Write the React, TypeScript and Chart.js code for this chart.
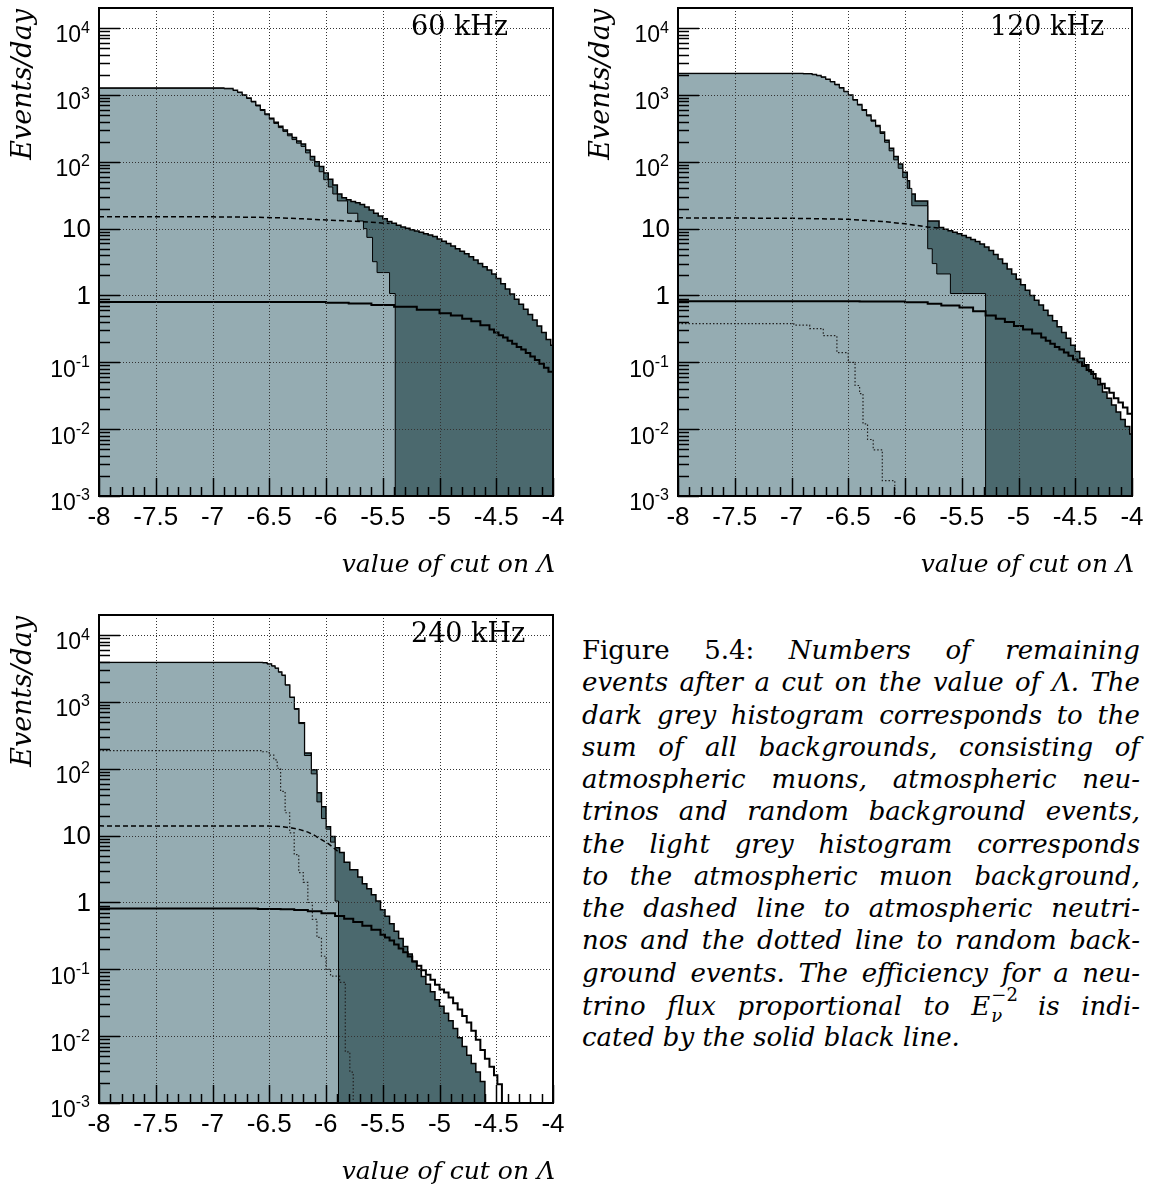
import React, { useEffect, useRef } from "react";
import { Chart, registerables } from "chart.js";

Chart.register(...registerables);

type Pt = [number, number];

// a value far below the axis range: the histogram has dropped to zero there
const NONE = 1e-6;

const xTickValues = [-8, -7.5, -7, -6.5, -6, -5.5, -5, -4.5, -4];
const xTickLabels = ["-8", "-7.5", "-7", "-6.5", "-6", "-5.5", "-5", "-4.5", "-4"];
const yTickValues = [1e-3, 1e-2, 1e-1, 1, 10, 1e2, 1e3, 1e4];
const yTickBases = ["10", "10", "10", "1", "10", "10", "10", "10"];
const yTickExps = ["-3", "-2", "-1", "", "", "2", "3", "4"];

const panelTitles = ["60 kHz", "120 kHz", "240 kHz"];
const yAxisTitle = "Events/day";
const xAxisTitle = "value of cut on Λ";

// each point [x, y]: value y holds from x up to the next point's x

// ---------- 60 kHz ----------
const p1Sum: Pt[] = [
  [-8, 1270], [-6.9, 1250], [-6.82, 1180], [-6.78, 1100], [-6.74, 1000], [-6.7, 900], [-6.66, 800],
  [-6.62, 700], [-6.58, 600], [-6.54, 520], [-6.5, 450], [-6.46, 390], [-6.42, 340], [-6.38, 300],
  [-6.34, 260], [-6.3, 230], [-6.26, 205], [-6.22, 185], [-6.18, 150], [-6.14, 120], [-6.1, 100],
  [-6.06, 85], [-6.02, 68], [-5.98, 55], [-5.94, 45], [-5.9, 33], [-5.86, 29], [-5.82, 27],
  [-5.78, 25.5], [-5.74, 24.5], [-5.7, 23], [-5.66, 21], [-5.62, 19], [-5.58, 17], [-5.54, 15.5],
  [-5.5, 14], [-5.46, 12.8], [-5.42, 12], [-5.38, 11.2], [-5.34, 10.6], [-5.3, 10.1], [-5.26, 9.6],
  [-5.22, 9.2], [-5.18, 8.8], [-5.14, 8.4], [-5.1, 8.0], [-5.06, 7.6], [-5.02, 7.0], [-4.98, 6.5],
  [-4.94, 6.0], [-4.9, 5.5], [-4.86, 5.0], [-4.82, 4.6], [-4.78, 4.2], [-4.74, 3.8], [-4.7, 3.4],
  [-4.66, 3.0], [-4.62, 2.7], [-4.58, 2.4], [-4.54, 2.1], [-4.5, 1.8], [-4.46, 1.5], [-4.42, 1.25],
  [-4.38, 1.05], [-4.34, 0.88], [-4.3, 0.74], [-4.26, 0.62], [-4.22, 0.52], [-4.18, 0.43],
  [-4.14, 0.35], [-4.1, 0.28], [-4.06, 0.22], [-4.02, 0.18], [-4, 0.17],
];
const p1Muon: Pt[] = [
  [-8, 1255], [-6.9, 1235], [-6.82, 1165], [-6.78, 1085], [-6.74, 985], [-6.7, 885], [-6.66, 785],
  [-6.62, 685], [-6.58, 585], [-6.54, 505], [-6.5, 435], [-6.46, 375], [-6.42, 325], [-6.38, 285],
  [-6.34, 245], [-6.3, 215], [-6.26, 190], [-6.22, 170], [-6.18, 136], [-6.14, 106], [-6.1, 86],
  [-6.06, 71], [-6.02, 54], [-5.98, 42], [-5.94, 33], [-5.9, 26], [-5.81, 17], [-5.72, 13],
  [-5.67, 10], [-5.64, 7.4], [-5.59, 3.2], [-5.55, 2.2], [-5.44, 1.07], [-5.39, NONE], [-4, NONE],
];
const p1Nu: Pt[] = [
  [-8, 15], [-7, 15], [-6.6, 14.8], [-6.4, 14.5], [-6.2, 14.0], [-6.0, 13.5], [-5.8, 13.0],
  [-5.6, 12.5], [-5.44, 11.9],
];
const p1Signal: Pt[] = [
  [-8, 0.8], [-6.4, 0.8], [-6.0, 0.78], [-5.8, 0.76], [-5.6, 0.72], [-5.4, 0.68], [-5.2, 0.61],
  [-5.0, 0.54], [-4.9, 0.5], [-4.8, 0.45], [-4.72, 0.41], [-4.64, 0.36], [-4.56, 0.31], [-4.52, 0.28],
  [-4.48, 0.255], [-4.44, 0.235], [-4.4, 0.21], [-4.36, 0.19], [-4.32, 0.17], [-4.28, 0.155],
  [-4.24, 0.138], [-4.2, 0.122], [-4.16, 0.108], [-4.12, 0.095], [-4.08, 0.083], [-4.04, 0.072],
  [-4, 0.06],
];

// ---------- 120 kHz ----------
const p2Sum: Pt[] = [
  [-8, 2100], [-6.9, 2080], [-6.82, 2020], [-6.78, 1950], [-6.74, 1850], [-6.7, 1720], [-6.66, 1580],
  [-6.62, 1430], [-6.58, 1280], [-6.54, 1130], [-6.5, 1000], [-6.46, 850], [-6.42, 720], [-6.38, 600],
  [-6.34, 500], [-6.3, 420], [-6.26, 350], [-6.22, 280], [-6.18, 210], [-6.14, 160], [-6.1, 120],
  [-6.06, 93], [-6.02, 70], [-5.98, 52], [-5.96, 33], [-5.91, 26], [-5.8, 13], [-5.7, 10.4],
  [-5.66, 9.8], [-5.62, 9.3], [-5.58, 8.8], [-5.54, 8.4], [-5.5, 7.9], [-5.46, 7.4], [-5.42, 6.9],
  [-5.38, 6.4], [-5.34, 5.9], [-5.3, 5.3], [-5.26, 4.7], [-5.22, 4.1], [-5.18, 3.5], [-5.14, 3.0],
  [-5.1, 2.5], [-5.06, 2.1], [-5.02, 1.75], [-4.98, 1.45], [-4.94, 1.2], [-4.9, 1.0], [-4.86, 0.85],
  [-4.82, 0.72], [-4.78, 0.6], [-4.74, 0.5], [-4.7, 0.42], [-4.66, 0.34], [-4.62, 0.28], [-4.58, 0.23],
  [-4.54, 0.18], [-4.5, 0.145], [-4.46, 0.115], [-4.42, 0.092], [-4.38, 0.073], [-4.34, 0.058],
  [-4.3, 0.046], [-4.26, 0.036], [-4.22, 0.029], [-4.18, 0.023], [-4.14, 0.018], [-4.1, 0.014],
  [-4.06, 0.011], [-4.02, 0.0085], [-4, 0.0073],
];
const p2Muon: Pt[] = [
  [-8, 2085], [-6.9, 2065], [-6.82, 2005], [-6.78, 1935], [-6.74, 1835], [-6.7, 1705], [-6.66, 1565],
  [-6.62, 1415], [-6.58, 1265], [-6.54, 1115], [-6.5, 985], [-6.46, 835], [-6.42, 705], [-6.38, 585],
  [-6.34, 485], [-6.3, 405], [-6.26, 335], [-6.22, 265], [-6.18, 196], [-6.14, 146], [-6.1, 107],
  [-6.06, 80], [-6.02, 58], [-5.98, 40], [-5.94, 22], [-5.8, 5], [-5.76, 3.0], [-5.72, 2.1],
  [-5.6, 1.07], [-5.29, NONE], [-4, NONE],
];
const p2Nu: Pt[] = [
  [-8, 14.5], [-7, 14.3], [-6.5, 13.8], [-6.2, 12.8], [-6.0, 11.8], [-5.8, 10.6], [-5.7, 10.2],
];
const p2Random: Pt[] = [
  [-8, 0.38], [-6.98, 0.36], [-6.84, 0.32], [-6.72, 0.25], [-6.6, 0.14], [-6.5, 0.1], [-6.44, 0.045],
  [-6.4, 0.034], [-6.37, 0.012], [-6.33, 0.007], [-6.28, 0.0049], [-6.2, 0.0017], [-6.09, NONE],
];
const p2Signal: Pt[] = [
  [-8, 0.82], [-6.4, 0.81], [-6.0, 0.79], [-5.8, 0.75], [-5.68, 0.71], [-5.52, 0.66], [-5.4, 0.58],
  [-5.29, 0.5], [-5.2, 0.45], [-5.12, 0.4], [-5.04, 0.35], [-4.96, 0.31], [-4.88, 0.27], [-4.8, 0.235],
  [-4.76, 0.21], [-4.72, 0.19], [-4.68, 0.17], [-4.64, 0.155], [-4.6, 0.14], [-4.56, 0.125],
  [-4.52, 0.11], [-4.48, 0.1], [-4.44, 0.088], [-4.4, 0.077], [-4.36, 0.067], [-4.32, 0.057],
  [-4.28, 0.048], [-4.24, 0.041], [-4.2, 0.035], [-4.16, 0.029], [-4.12, 0.025], [-4.08, 0.021],
  [-4.04, 0.017], [-4, 0.0146],
];

// ---------- 240 kHz ----------
const p3Sum: Pt[] = [
  [-8, 3900], [-6.56, 3850], [-6.52, 3700], [-6.48, 3450], [-6.45, 3200], [-6.42, 2800], [-6.39, 2500],
  [-6.36, 1800], [-6.32, 1180], [-6.28, 790], [-6.24, 490], [-6.19, 173], [-6.13, 97], [-6.08, 44],
  [-6.04, 27], [-6.0, 13.6], [-5.96, 9.7], [-5.92, 6.6], [-5.88, 5.6], [-5.84, 4.0], [-5.79, 3.1],
  [-5.72, 2.4], [-5.68, 1.9], [-5.64, 1.6], [-5.6, 1.3], [-5.56, 1.05], [-5.52, 0.78], [-5.48, 0.62],
  [-5.44, 0.48], [-5.4, 0.37], [-5.36, 0.29], [-5.32, 0.22], [-5.28, 0.17], [-5.24, 0.13], [-5.2, 0.1],
  [-5.16, 0.078], [-5.12, 0.06], [-5.08, 0.046], [-5.04, 0.035], [-5.0, 0.028], [-4.96, 0.022],
  [-4.92, 0.017], [-4.88, 0.013], [-4.84, 0.0095], [-4.8, 0.007], [-4.76, 0.0052], [-4.72, 0.0039],
  [-4.68, 0.0029], [-4.64, 0.0021], [-4.6, NONE], [-4, NONE],
];
const p3Muon: Pt[] = [
  [-8, 3885], [-6.56, 3835], [-6.52, 3685], [-6.48, 3435], [-6.45, 3185], [-6.42, 2785], [-6.39, 2485],
  [-6.36, 1785], [-6.32, 1165], [-6.28, 775], [-6.24, 475], [-6.19, 158], [-6.13, 84], [-6.08, 32],
  [-6.04, 18], [-6.0, 12.5], [-5.96, 8], [-5.92, 1.05], [-5.89, NONE], [-4, NONE],
];
const p3Nu: Pt[] = [
  [-8, 14], [-6.5, 13.9], [-6.4, 13.7], [-6.3, 13.0], [-6.23, 12.3], [-6.16, 11.3], [-6.11, 10.3],
  [-6.04, 8.7], [-5.98, 7.6], [-5.92, 6.3], [-5.88, 5.5],
];
const p3Random: Pt[] = [
  [-8, 187], [-6.56, 180], [-6.5, 160], [-6.46, 136], [-6.43, 102], [-6.4, 46], [-6.36, 22],
  [-6.32, 11], [-6.28, 5.2], [-6.24, 2.8], [-6.2, 2.0], [-6.16, 1.0], [-6.12, 0.56], [-6.08, 0.3],
  [-6.04, 0.157], [-6.0, 0.1], [-5.96, 0.079], [-5.88, 0.064], [-5.83, 0.0058], [-5.79, 0.0029],
  [-5.76, NONE],
];
const p3Signal: Pt[] = [
  [-8, 0.81], [-6.6, 0.8], [-6.4, 0.79], [-6.28, 0.77], [-6.16, 0.74], [-6.04, 0.69], [-5.92, 0.63],
  [-5.84, 0.57], [-5.76, 0.51], [-5.68, 0.45], [-5.6, 0.39], [-5.52, 0.33], [-5.48, 0.3], [-5.44, 0.27],
  [-5.4, 0.235], [-5.36, 0.205], [-5.32, 0.18], [-5.28, 0.155], [-5.24, 0.132], [-5.2, 0.113],
  [-5.16, 0.097], [-5.12, 0.083], [-5.08, 0.07], [-5.04, 0.059], [-5.0, 0.05], [-4.96, 0.045],
  [-4.92, 0.038], [-4.88, 0.031], [-4.84, 0.025], [-4.8, 0.02], [-4.76, 0.016], [-4.72, 0.012],
  [-4.68, 0.0088], [-4.64, 0.0062], [-4.6, 0.0046], [-4.56, 0.0035], [-4.52, 0.0026], [-4.49, 0.0019],
  [-4.45, NONE],
];

const DARK = "#4b696e";
const LIGHT = "#95acb2";

const SANS = '"Liberation Sans", Arial, sans-serif';
const SERIF = '"DejaVu Serif", serif';

function rootAxesPlugin(title: string) {
  return {
    id: "rootAxes",
    afterDatasetsDraw(chart: any) {
      const { ctx, chartArea: a } = chart;
      const xs = chart.scales.x;
      const ys = chart.scales.y;
      ctx.save();
      // dotted grid on top of fills
      ctx.strokeStyle = "#333";
      ctx.lineWidth = 1;
      ctx.setLineDash([1, 2]);
      xTickValues.forEach((v) => {
        const px = Math.round(xs.getPixelForValue(v)) + 0.5;
        ctx.beginPath();
        ctx.moveTo(px, a.top);
        ctx.lineTo(px, a.bottom);
        ctx.stroke();
      });
      yTickValues.forEach((v) => {
        const py = Math.round(ys.getPixelForValue(v)) + 0.5;
        ctx.beginPath();
        ctx.moveTo(a.left, py);
        ctx.lineTo(a.right, py);
        ctx.stroke();
      });
      ctx.setLineDash([]);
      // ticks
      ctx.strokeStyle = "#000";
      ctx.lineWidth = 1.5;
      for (let i = 0; i <= 40; i++) {
        const v = -8 + i * 0.1;
        const px = Math.round(xs.getPixelForValue(v)) + 0.5;
        const len = i % 5 === 0 ? 18 : 9;
        ctx.beginPath();
        ctx.moveTo(px, a.bottom);
        ctx.lineTo(px, a.bottom - len);
        ctx.stroke();
      }
      for (let e = -3; e <= 4; e++) {
        for (let m = 1; m <= 9; m++) {
          const v = m * Math.pow(10, e);
          if (v >= ys.max) break;
          const py = Math.round(ys.getPixelForValue(v)) + 0.5;
          const len = m === 1 ? 21 : 11;
          ctx.beginPath();
          ctx.moveTo(a.left, py);
          ctx.lineTo(a.left + len, py);
          ctx.stroke();
        }
      }
      // frame
      ctx.lineWidth = 2;
      ctx.strokeRect(a.left, a.top, a.right - a.left, a.bottom - a.top);
      // tick labels
      ctx.fillStyle = "#000";
      ctx.textBaseline = "middle";
      ctx.font = `26px ${SANS}`;
      ctx.textAlign = "center";
      xTickValues.forEach((v, i) => {
        ctx.fillText(xTickLabels[i], xs.getPixelForValue(v), a.bottom + 22);
      });
      const right = a.left - 9;
      yTickValues.forEach((v, i) => {
        const py = ys.getPixelForValue(v);
        ctx.textAlign = "right";
        if (yTickExps[i]) {
          ctx.font = `16px ${SANS}`;
          ctx.fillText(yTickExps[i], right, py);
          const w = ctx.measureText(yTickExps[i]).width;
          ctx.font = `23px ${SANS}`;
          ctx.fillText(yTickBases[i], right - w, py + 8);
        } else {
          ctx.font = `26px ${SANS}`;
          ctx.fillText(yTickBases[i], right + 1, py + 1);
        }
      });
      // axis titles
      ctx.font = `italic 27px ${SERIF}`;
      ctx.save();
      ctx.translate(24, a.top + 1);
      ctx.rotate(-Math.PI / 2);
      ctx.textAlign = "right";
      ctx.textBaseline = "middle";
      ctx.fillText(yAxisTitle, 0, 0);
      ctx.restore();
      ctx.font = `italic 25px ${SERIF}`;
      ctx.textAlign = "right";
      ctx.fillText(xAxisTitle, a.right + 2, a.bottom + 69);
      // panel label
      ctx.font = `27px ${SERIF}`;
      ctx.textAlign = "left";
      ctx.fillText(title, a.left + 312, a.top + 20);
      ctx.restore();
    },
  };
}

interface PanelProps {
  left: number;
  top: number;
  width: number;
  height: number;
  pad: { left: number; top: number; right: number; bottom: number };
  title: string;
  sum: Pt[];
  muon: Pt[];
  nu: Pt[];
  random?: Pt[];
  signal: Pt[];
}

function Panel(props: PanelProps) {
  const ref = useRef<HTMLCanvasElement>(null);
  useEffect(() => {
    const canvas = ref.current!;
    const toXY = (p: Pt[]) => p.map(([x, y]) => ({ x, y }));
    const datasets: any[] = [
      {
        label: "signal",
        data: toXY(props.signal),
        borderColor: "#000",
        borderWidth: 2,
        stepped: "before",
        fill: false,
        order: 0,
      },
      {
        label: "neutrinos",
        data: toXY(props.nu),
        borderColor: "#000",
        borderWidth: 1.5,
        borderDash: [5, 3],
        fill: false,
        order: 1,
      },
    ];
    if (props.random) {
      datasets.push({
        label: "random",
        data: toXY(props.random),
        borderColor: "#222",
        borderWidth: 1.2,
        borderDash: [1.5, 2],
        stepped: "before",
        fill: false,
        order: 2,
      });
    }
    datasets.push({
      label: "muons",
      data: toXY(props.muon),
      borderColor: "#000",
      borderWidth: 1,
      backgroundColor: LIGHT,
      fill: "start",
      stepped: "before",
      order: 3,
    });
    datasets.push({
      label: "sum",
      data: toXY(props.sum),
      borderColor: "#000",
      borderWidth: 1.5,
      backgroundColor: DARK,
      fill: "start",
      stepped: "before",
      order: 4,
    });
    const chart = new Chart(canvas, {
      type: "line",
      data: { datasets },
      options: {
        animation: false,
        responsive: false,
        devicePixelRatio: 1,
        events: [],
        layout: { padding: props.pad },
        elements: { point: { radius: 0 }, line: { tension: 0 } },
        plugins: {
          legend: { display: false },
          tooltip: { enabled: false },
          filler: { propagate: false },
        },
        scales: {
          x: { type: "linear", min: -8, max: -4, display: false },
          y: { type: "logarithmic", min: 1e-3, max: 2e4, display: false },
        },
      } as any,
      plugins: [rootAxesPlugin(props.title)],
    });
    return () => chart.destroy();
  }, []);
  return (
    <canvas
      ref={ref}
      width={props.width}
      height={props.height}
      style={{
        position: "absolute",
        left: props.left,
        top: props.top,
        width: props.width,
        height: props.height,
      }}
    />
  );
}

const lineStyle: React.CSSProperties = {
  textAlign: "justify",
  textAlignLast: "justify",
  whiteSpace: "nowrap",
  height: 32.25,
};

const captionLines = [
  "events after a cut on the value of Λ. The",
  "dark grey histogram corresponds to the",
  "sum of all backgrounds, consisting of",
  "atmospheric muons, atmospheric neu-",
  "trinos and random background events,",
  "the light grey histogram corresponds",
  "to the atmospheric muon background,",
  "the dashed line to atmospheric neutri-",
  "nos and the dotted line to random back-",
  "ground events. The efficiency for a neu-",
];

function Caption() {
  return (
    <div
      style={{
        position: "absolute",
        left: 582,
        top: 634,
        width: 558,
        fontFamily: SERIF,
        fontSize: 26,
        lineHeight: "32.25px",
        fontStyle: "italic",
        color: "#000",
      }}
    >
      <div style={lineStyle}>
        <span style={{ fontStyle: "normal" }}>Figure 5.4:</span> Numbers of remaining
      </div>
      {captionLines.map((l, i) => (
        <div key={i} style={lineStyle}>
          {l}
        </div>
      ))}
      <div style={lineStyle}>
        trino flux proportional to E
        <span style={{ position: "relative", display: "inline-block", width: 26, height: 26 }}>
          <span style={{ position: "absolute", left: 1, top: -3, fontSize: 18, lineHeight: "18px", fontStyle: "normal" }}>
            −2
          </span>
          <span style={{ position: "absolute", left: 1, top: 18, fontSize: 18, lineHeight: "18px" }}>ν</span>
        </span>{" "}
        is indi-
      </div>
      <div style={{ whiteSpace: "nowrap" }}>cated by the solid black line.</div>
    </div>
  );
}

export default function App() {
  return (
    <div style={{ position: "absolute", left: 0, top: 0, width: 1151, height: 1187, background: "#fff" }}>
      <Panel
        left={0}
        top={0}
        width={575}
        height={590}
        pad={{ left: 99, top: 8, right: 22, bottom: 94 }}
        title={panelTitles[0]}
        sum={p1Sum}
        muon={p1Muon}
        nu={p1Nu}
        signal={p1Signal}
      />
      <Panel
        left={578}
        top={0}
        width={573}
        height={590}
        pad={{ left: 100, top: 8, right: 19, bottom: 94 }}
        title={panelTitles[1]}
        sum={p2Sum}
        muon={p2Muon}
        nu={p2Nu}
        random={p2Random}
        signal={p2Signal}
      />
      <Panel
        left={0}
        top={600}
        width={575}
        height={587}
        pad={{ left: 99, top: 15, right: 22, bottom: 84 }}
        title={panelTitles[2]}
        sum={p3Sum}
        muon={p3Muon}
        nu={p3Nu}
        random={p3Random}
        signal={p3Signal}
      />
      <Caption />
    </div>
  );
}
